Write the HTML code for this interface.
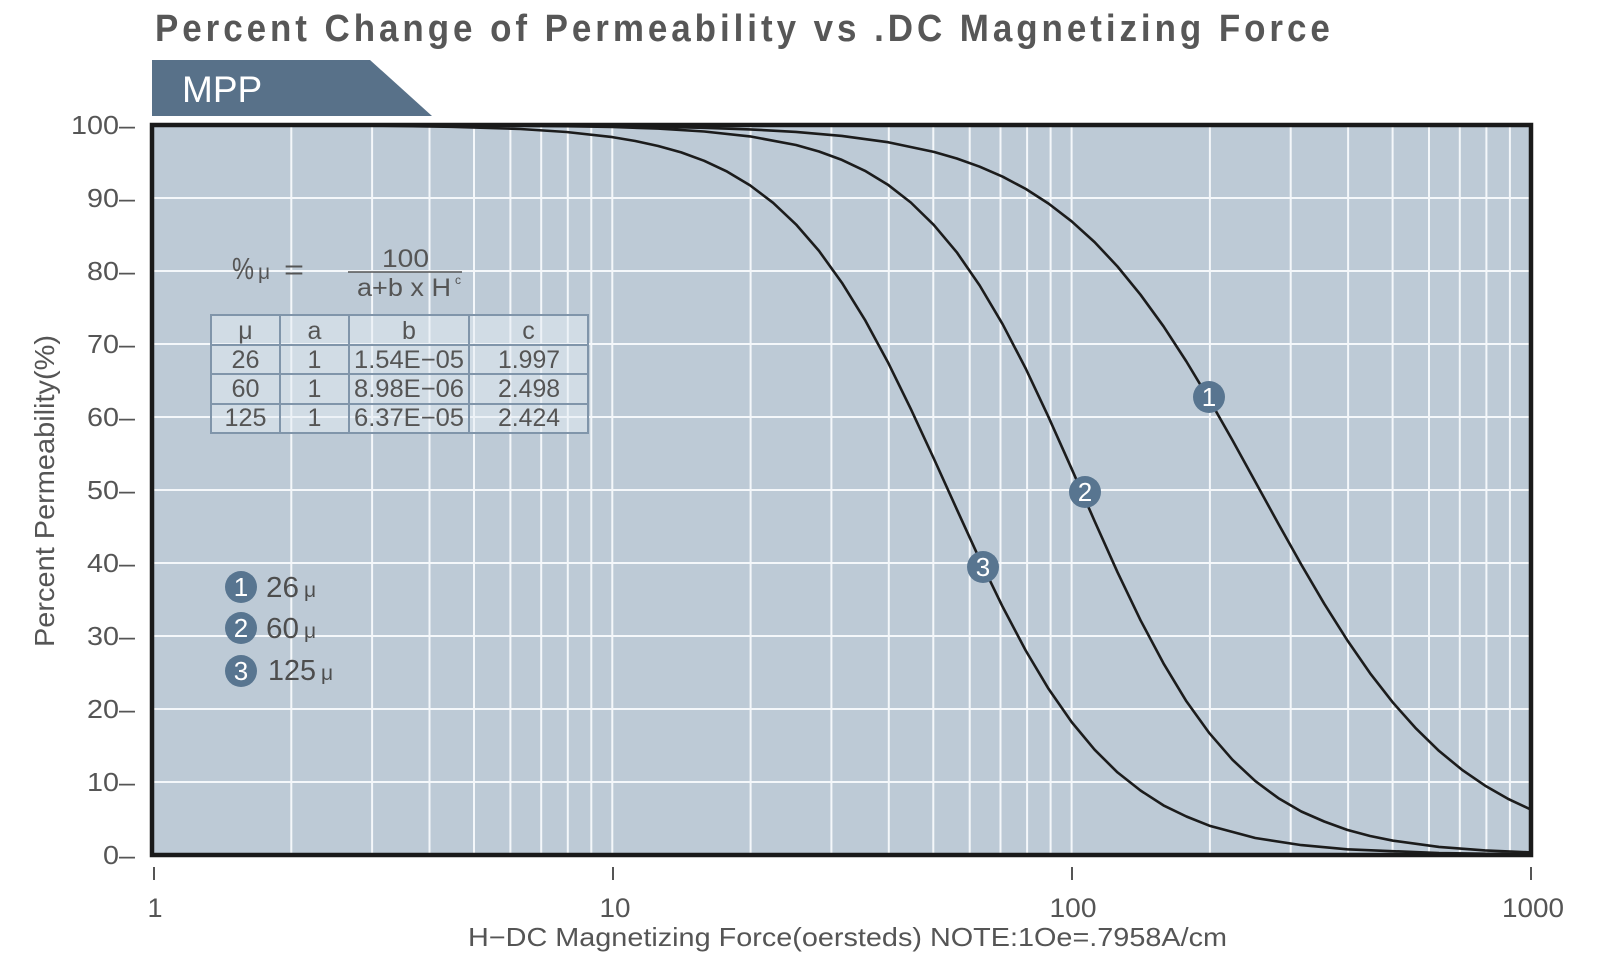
<!DOCTYPE html>
<html><head><meta charset="utf-8"><style>
html,body{margin:0;padding:0;background:#fff;}
svg{display:block;}
text{font-family:"Liberation Sans",Arial,sans-serif;}
</style></head><body>
<svg width="1600" height="979" viewBox="0 0 1600 979" xmlns="http://www.w3.org/2000/svg">
<rect width="1600" height="979" fill="#ffffff"/>
<!-- Title -->
<g transform="translate(155,41) scale(0.92,1)">
<text x="0" y="0" font-size="38" font-weight="bold" fill="#575757" textLength="1277" lengthAdjust="spacing">Percent Change of Permeability vs .DC Magnetizing Force</text>
</g>
<!-- Tab -->
<polygon points="152,60 370,60 432,116 152,116" fill="#587189"/>
<text x="182" y="102" font-size="37" fill="#ffffff">MPP</text>
<!-- Plot background -->
<rect x="152" y="125" width="1379" height="730" fill="#bdcad6"/>
<!-- vertical gridlines -->
<g stroke="#f4f7fa" stroke-width="2">
<line x1="291.3" y1="125" x2="291.3" y2="855"/>
<line x1="372.1" y1="125" x2="372.1" y2="855"/>
<line x1="429.5" y1="125" x2="429.5" y2="855"/>
<line x1="474.0" y1="125" x2="474.0" y2="855"/>
<line x1="510.4" y1="125" x2="510.4" y2="855"/>
<line x1="541.2" y1="125" x2="541.2" y2="855"/>
<line x1="567.8" y1="125" x2="567.8" y2="855"/>
<line x1="591.3" y1="125" x2="591.3" y2="855"/>
<line x1="612.3" y1="125" x2="612.3" y2="855"/>
<line x1="750.6" y1="125" x2="750.6" y2="855"/>
<line x1="831.4" y1="125" x2="831.4" y2="855"/>
<line x1="888.8" y1="125" x2="888.8" y2="855"/>
<line x1="933.3" y1="125" x2="933.3" y2="855"/>
<line x1="969.7" y1="125" x2="969.7" y2="855"/>
<line x1="1000.5" y1="125" x2="1000.5" y2="855"/>
<line x1="1027.1" y1="125" x2="1027.1" y2="855"/>
<line x1="1050.6" y1="125" x2="1050.6" y2="855"/>
<line x1="1071.6" y1="125" x2="1071.6" y2="855"/>
<line x1="1209.9" y1="125" x2="1209.9" y2="855"/>
<line x1="1290.7" y1="125" x2="1290.7" y2="855"/>
<line x1="1348.1" y1="125" x2="1348.1" y2="855"/>
<line x1="1392.6" y1="125" x2="1392.6" y2="855"/>
<line x1="1429.0" y1="125" x2="1429.0" y2="855"/>
<line x1="1459.8" y1="125" x2="1459.8" y2="855"/>
<line x1="1486.4" y1="125" x2="1486.4" y2="855"/>
<line x1="1509.9" y1="125" x2="1509.9" y2="855"/>
</g>
<!-- horizontal gridlines -->
<g stroke="#f4f7fa" stroke-width="2">
<line x1="152" y1="198" x2="1531" y2="198"/>
<line x1="152" y1="271" x2="1531" y2="271"/>
<line x1="152" y1="344" x2="1531" y2="344"/>
<line x1="152" y1="417" x2="1531" y2="417"/>
<line x1="152" y1="490" x2="1531" y2="490"/>
<line x1="152" y1="563" x2="1531" y2="563"/>
<line x1="152" y1="636" x2="1531" y2="636"/>
<line x1="152" y1="709" x2="1531" y2="709"/>
<line x1="152" y1="782" x2="1531" y2="782"/>
</g>
<!-- Formula -->
<g fill="#555555">
<text x="232" y="279" font-size="31" textLength="22" lengthAdjust="spacingAndGlyphs">%</text>
<text x="258" y="279" font-size="21">μ</text>
<text x="284" y="279" font-size="28" textLength="20" lengthAdjust="spacingAndGlyphs">=</text>
<text x="382" y="267" font-size="25" textLength="47" lengthAdjust="spacingAndGlyphs">100</text>
<text x="357" y="296" font-size="25" textLength="94" lengthAdjust="spacingAndGlyphs">a+b x H</text>
<text x="455" y="284" font-size="12">c</text>
</g>
<line x1="348" y1="272" x2="462" y2="272" stroke="#555555" stroke-width="1.5"/>
<!-- Table -->
<rect x="211" y="315" width="377" height="118" fill="#e6edf3" fill-opacity="0.5" stroke="#8095aa" stroke-width="2"/>
<g stroke="#8095aa" stroke-width="2">
<line x1="280" y1="315" x2="280" y2="433"/>
<line x1="349" y1="315" x2="349" y2="433"/>
<line x1="469" y1="315" x2="469" y2="433"/>
<line x1="211" y1="345" x2="588" y2="345"/>
<line x1="211" y1="374" x2="588" y2="374"/>
<line x1="211" y1="404" x2="588" y2="404"/>
</g>
<g fill="#555555" font-size="25">
<text x="245.5" y="339" text-anchor="middle">μ</text>
<text x="314.5" y="339" text-anchor="middle">a</text>
<text x="409" y="339" text-anchor="middle">b</text>
<text x="528.5" y="339" text-anchor="middle">c</text>
<text x="231.5" y="368" textLength="28" lengthAdjust="spacingAndGlyphs">26</text>
<text x="314.5" y="368" text-anchor="middle">1</text>
<text x="354" y="368" textLength="110" lengthAdjust="spacingAndGlyphs">1.54E−05</text>
<text x="498" y="368" textLength="62" lengthAdjust="spacingAndGlyphs">1.997</text>
<text x="231.5" y="397" textLength="28" lengthAdjust="spacingAndGlyphs">60</text>
<text x="314.5" y="397" text-anchor="middle">1</text>
<text x="354" y="397" textLength="110" lengthAdjust="spacingAndGlyphs">8.98E−06</text>
<text x="498" y="397" textLength="62" lengthAdjust="spacingAndGlyphs">2.498</text>
<text x="224.5" y="426" textLength="42" lengthAdjust="spacingAndGlyphs">125</text>
<text x="314.5" y="426" text-anchor="middle">1</text>
<text x="354" y="426" textLength="110" lengthAdjust="spacingAndGlyphs">6.37E−05</text>
<text x="498" y="426" textLength="62" lengthAdjust="spacingAndGlyphs">2.424</text>
</g>
<!-- Curves -->
<defs><clipPath id="pc"><rect x="152" y="125" width="1379" height="730"/></clipPath></defs>
<g clip-path="url(#pc)" fill="none" stroke="#1c1c1c" stroke-width="2.6" stroke-linejoin="round" stroke-linecap="round">
<polyline points="153,125 382.7,125.1 497.5,125.4 566.4,125.7 612.3,126.1 658.2,126.8 704.2,127.8 750.1,129.4 796.0,131.9 841.9,135.9 887.9,142.2 933.8,151.9 956.8,158.5 979.7,166.7 1002.7,176.7 1025.7,188.9 1048.6,203.6 1071.6,221.3 1094.6,242.1 1117.5,266.5 1140.5,294.7 1163.5,326.3 1186.4,361.5 1209.4,399.7 1232.4,440.1 1255.3,481.8 1278.3,523.6 1301.3,564.6 1324.2,603.7 1347.2,640.1 1370.1,673.3 1393.1,702.8 1416.1,728.6 1439.0,750.9 1462.0,769.8 1485.0,785.6 1507.9,798.8 1530.9,809.6"/>
<polyline points="153,125 382.7,125.1 497.5,125.5 566.4,126.2 612.3,127.0 658.2,128.6 704.2,131.5 750.1,136.4 796.0,145.0 819.0,151.5 841.9,159.9 864.9,170.8 887.9,184.7 910.8,202.5 933.8,224.9 956.8,252.3 979.7,285.5 1002.7,324.3 1025.7,368.5 1048.6,417.2 1071.6,468.7 1094.6,521.1 1117.5,572.2 1140.5,620.2 1163.5,663.4 1186.4,701.3 1209.4,733.2 1232.4,759.7 1255.3,781.1 1278.3,798.1 1301.3,811.5 1324.2,821.5 1347.2,829.9 1370.1,836.0 1393.1,840.7 1439.0,846.9 1485.0,850.4 1530.9,852.4"/>
<polyline points="153,125 267.8,125.2 382.7,125.7 451.5,126.8 520.4,129.0 566.4,132.0 612.3,137.1 635.3,141.0 658.2,146.0 681.2,152.4 704.2,160.8 727.1,171.6 750.1,185.4 773.1,202.8 796.0,224.4 819.0,250.9 841.9,282.7 864.9,319.8 887.9,362.2 910.8,408.9 933.8,458.5 956.8,509.3 979.7,559.4 1002.7,606.9 1025.7,650.5 1048.6,688.9 1071.6,722.0 1094.6,749.7 1117.5,772.4 1140.5,790.5 1163.5,805.4 1186.4,816.5 1209.4,825.7 1255.3,838.0 1301.3,845.1 1347.2,849.3 1439.0,853.1 1530.9,854.4"/>
</g>
<!-- Plot border -->
<rect x="152" y="125" width="1379" height="730" fill="none" stroke="#1a1a1a" stroke-width="4.5"/>
<!-- Curve markers -->
<g fill="#587590">
<circle cx="1209" cy="397" r="16"/>
<circle cx="1085" cy="492" r="16"/>
<circle cx="983" cy="567" r="16"/>
<circle cx="241" cy="587" r="16"/>
<circle cx="241" cy="628" r="16"/>
<circle cx="241" cy="671" r="16"/>
</g>
<g fill="#ffffff" font-size="26" text-anchor="middle">
<text x="1209" y="406">1</text>
<text x="1085" y="501">2</text>
<text x="983" y="576">3</text>
<text x="241" y="596">1</text>
<text x="241" y="637">2</text>
<text x="241" y="680">3</text>
</g>
<!-- Legend text -->
<g fill="#4d4d4d">
<text x="266" y="597" font-size="29" textLength="33" lengthAdjust="spacingAndGlyphs">26</text>
<text x="304" y="597" font-size="21">μ</text>
<text x="266" y="638" font-size="29" textLength="33" lengthAdjust="spacingAndGlyphs">60</text>
<text x="304" y="638" font-size="21">μ</text>
<text x="268" y="680" font-size="29" textLength="48" lengthAdjust="spacingAndGlyphs">125</text>
<text x="321" y="680" font-size="21">μ</text>
</g>
<!-- Y tick labels -->
<g fill="#555555" font-size="26">
<text x="71" y="134" textLength="64" lengthAdjust="spacingAndGlyphs">100–</text>
<text x="87" y="207" textLength="48" lengthAdjust="spacingAndGlyphs">90–</text>
<text x="87" y="280" textLength="48" lengthAdjust="spacingAndGlyphs">80–</text>
<text x="87" y="353" textLength="48" lengthAdjust="spacingAndGlyphs">70–</text>
<text x="87" y="426" textLength="48" lengthAdjust="spacingAndGlyphs">60–</text>
<text x="87" y="499" textLength="48" lengthAdjust="spacingAndGlyphs">50–</text>
<text x="87" y="572" textLength="48" lengthAdjust="spacingAndGlyphs">40–</text>
<text x="87" y="645" textLength="48" lengthAdjust="spacingAndGlyphs">30–</text>
<text x="87" y="718" textLength="48" lengthAdjust="spacingAndGlyphs">20–</text>
<text x="87" y="791" textLength="48" lengthAdjust="spacingAndGlyphs">10–</text>
<text x="103" y="864" textLength="32" lengthAdjust="spacingAndGlyphs">0–</text>
</g>
<!-- Y axis title -->
<text transform="translate(54,491) rotate(-90)" x="-156" y="0" font-size="28" fill="#555555" textLength="312" lengthAdjust="spacingAndGlyphs">Percent Permeability(%)</text>
<!-- X ticks -->
<g stroke="#555555" stroke-width="2">
<line x1="154" y1="867" x2="154" y2="880"/>
<line x1="613" y1="867" x2="613" y2="880"/>
<line x1="1072" y1="867" x2="1072" y2="880"/>
<line x1="1531" y1="867" x2="1531" y2="880"/>
</g>
<g fill="#555555" font-size="27">
<text x="155" y="917" text-anchor="middle">1</text>
<text x="599.5" y="917" textLength="31" lengthAdjust="spacingAndGlyphs">10</text>
<text x="1049.5" y="917" textLength="47" lengthAdjust="spacingAndGlyphs">100</text>
<text x="1502" y="917" textLength="62" lengthAdjust="spacingAndGlyphs">1000</text>
</g>
<text x="468" y="946" font-size="26" fill="#555555" textLength="759" lengthAdjust="spacingAndGlyphs">H−DC Magnetizing Force(oersteds) NOTE:1Oe=.7958A/cm</text>
</svg>
</body></html>
